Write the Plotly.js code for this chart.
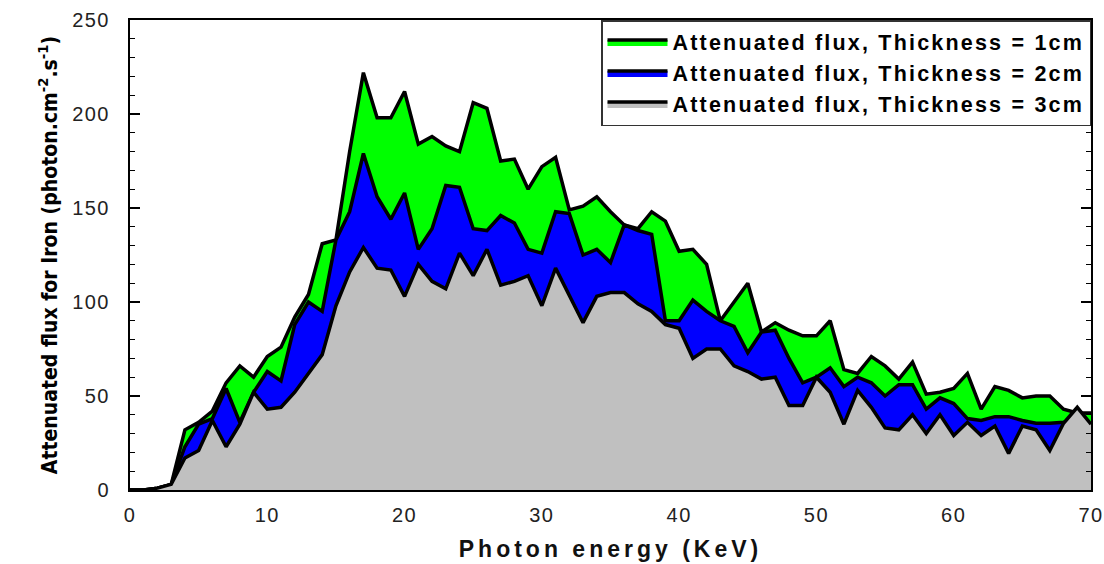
<!DOCTYPE html>
<html>
<head>
<meta charset="utf-8">
<script src="https://cdn.plot.ly/plotly-3.0.1.min.js"></script>
<style>
html,body{margin:0;padding:0;background:#fff;}
#chart{width:1104px;height:564px;}
.xtitle{letter-spacing:4px;}
.legendtext{letter-spacing:2.2px;}
.ytick text, .xtick text{letter-spacing:1.5px;}
</style>
</head>
<body>
<div id="chart"></div>
<script>
// Photon energy (keV)
const energy = [0,1,2,3,4,5,6,7,8,9,10,11,12,13,14,15,16,17,18,19,20,21,22,23,24,25,26,27,28,29,30,31,32,33,34,35,36,37,38,39,40,41,42,43,44,45,46,47,48,49,50,51,52,53,54,55,56,57,58,59,60,61,62,63,64,65,66,67,68,69,70];

// Attenuated flux, thickness = 1 cm
const flux1cm = [0,0,1,3,32,36,42,57,66,60,71,76,92,104,131,133,180,222,198,198,212,184,188,183,180,206,203,175,176,160,172,177,149,151,156,148,141,139,148,143,127,128,120,90,100,110,84,89,85,82,82,90,64,62,71,66,59,68,51,52,54,62,43,55,53,49,50,50,43,41,41];

// Attenuated flux, thickness = 2 cm
const flux2cm = [0,0,1,3,23,35,38,54,36,52,63,58,88,100,95,133,148,179,156,144,158,128,139,162,161,139,138,146,142,128,126,148,147,125,128,121,141,138,136,90,90,101,95,90,87,73,84,85,70,57,60,65,55,60,57,50,56,56,43,49,46,38,37,39,39,37,35.5,35.5,36,37,35];

// Attenuated flux, thickness = 3 cm
const flux3cm = [0,0,1,3,17,21,37,23,35,52,43,44,52,62,72,98,116,129,118,117,103,120,111,107,126,114,128,109,111,114,98,118,103,89,103,105,105,99,95,88,86,70,75,75,66,63,59,60,45,45,60,52,35,53,44,33,32,40,30,40,29,36,29,34,19.5,34,32,21,35.5,44,35];

const seriesNames = ['Attenuated flux, Thickness = 1cm','Attenuated flux, Thickness = 2cm','Attenuated flux, Thickness = 3cm'];
const fillColors = ['#00ff00','#0000ff','#c0c0c0'];
const seriesData = [flux1cm, flux2cm, flux3cm];

const traces = seriesData.map((ys, i) => ({
  x: energy,
  y: ys,
  type: 'scatter',
  mode: 'lines',
  name: seriesNames[i],
  fill: 'tozeroy',
  fillcolor: fillColors[i],
  line: {color: '#000000', width: 3.5, shape: 'linear'},
  hoverinfo: 'x+y'
}));

const layout = {
  width: 1104,
  height: 564,
  margin: {l: 130, r: 13, t: 20, b: 74},
  paper_bgcolor: '#ffffff',
  plot_bgcolor: '#ffffff',
  font: {family: 'Liberation Sans, Arial, sans-serif', color: '#222222'},
  showlegend: true,
  legend: {
    x: 1, y: 1, xanchor: 'right', yanchor: 'top',
    bgcolor: '#ffffff', bordercolor: '#333333', borderwidth: 1.5,
    font: {family: 'Liberation Sans, Arial, sans-serif', size: 21.5, color: '#000000', weight: 'bold'},
    traceorder: 'normal',
    itemwidth: 60,
    tracegroupgap: 0
  },
  xaxis: {
    range: [0, 70],
    tickvals: [0,10,20,30,40,50,60,70],
    ticks: '',
    ticklabeloverflow: 'allow',
    showline: true, linecolor: '#000000', linewidth: 2,
    mirror: true,
    showgrid: false, zeroline: false,
    tickfont: {size: 20, color: '#222222'},
    ticklabelstandoff: 6,
    title: {text: 'Photon energy (KeV)', font: {size: 23, color: '#111111', weight: 'bold'}, standoff: 16}
  },
  yaxis: {
    range: [0, 250],
    tickvals: [0,50,100,150,200,250],
    ticks: 'inside', ticklen: 10, tickwidth: 1.5, tickcolor: '#000000',
    minor: {dtick: 10, ticks: 'inside', ticklen: 5, tickwidth: 1, tickcolor: '#000000'},
    showline: true, linecolor: '#000000', linewidth: 2,
    mirror: 'ticks',
    showgrid: false, zeroline: false,
    ticklabeloverflow: 'allow',
    tickfont: {size: 20, color: '#222222'},
    ticklabelstandoff: 14,
    title: {text: 'Attenuated flux for Iron (photon.cm<sup>-2</sup>.s<sup>-1</sup>)', font: {family: 'DejaVu Sans Condensed, Liberation Sans Narrow, Liberation Sans, sans-serif', size: 21, color: '#000000', weight: 'bold'}, standoff: 9}
  }
};

Plotly.newPlot('chart', traces, layout, {displayModeBar: false, staticPlot: true});
</script>
</body>
</html>
